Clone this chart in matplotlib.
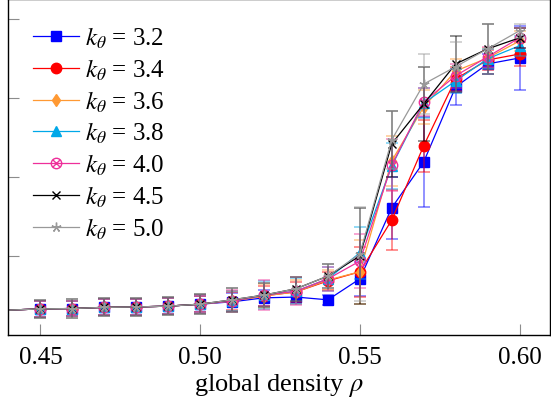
import matplotlib
matplotlib.use("Agg")
import matplotlib.pyplot as plt
from matplotlib.path import Path

plt.rcParams['font.family'] = ['Liberation Serif', 'DejaVu Serif']
plt.rcParams['mathtext.fontset'] = 'stix'

rho = [0.44, 0.45, 0.46, 0.47, 0.48, 0.49, 0.50, 0.51, 0.52,
       0.53, 0.54, 0.55, 0.56, 0.57, 0.58, 0.59, 0.60]

low = [0.063, 0.066, 0.067, 0.070, 0.071, 0.073, 0.078]

y_32 = low + [0.084, 0.094, 0.096, 0.089, 0.142, 0.322, 0.438, 0.628, 0.686, 0.701]
y_34 = low + [0.086, 0.099, 0.109, 0.137, 0.160, 0.291, 0.479, 0.648, 0.696, 0.711]
y_36 = low + [0.086, 0.099, 0.109, 0.139, 0.160, 0.441, 0.577, 0.668, 0.701, 0.744]
y_38 = low + [0.086, 0.101, 0.111, 0.142, 0.208, 0.428, 0.587, 0.643, 0.699, 0.732]
y_40 = low + [0.086, 0.101, 0.111, 0.142, 0.187, 0.430, 0.590, 0.656, 0.704, 0.752]
y_45 = low + [0.089, 0.101, 0.117, 0.149, 0.200, 0.484, 0.585, 0.686, 0.724, 0.752]
y_50 = low + [0.089, 0.101, 0.117, 0.149, 0.205, 0.494, 0.635, 0.679, 0.724, 0.770]

e_low = [0.020] * 6
e_32 = e_low + [0.020, 0.023, 0.020, 0.015, 0.013, 0.043, 0.078, 0.114, 0.046, 0.025, 0.081]
e_34 = e_low + [0.020, 0.023, 0.025, 0.025, 0.023, 0.063, 0.076, 0.066, 0.030, 0.025, 0.030]
e_36 = e_low + [0.023, 0.025, 0.030, 0.030, 0.025, 0.081, 0.063, 0.043, 0.030, 0.025, 0.025]
e_38 = e_low + [0.023, 0.025, 0.035, 0.033, 0.030, 0.066, 0.058, 0.038, 0.030, 0.025, 0.025]
e_40 = e_low + [0.023, 0.028, 0.038, 0.035, 0.030, 0.068, 0.066, 0.035, 0.030, 0.025, 0.025]
e_45 = [0.023] * 6 + [0.025, 0.030, 0.030, 0.030, 0.030, 0.121, 0.084, 0.094, 0.071, 0.063, 0.025]
e_50 = [0.023] * 6 + [0.025, 0.030, 0.030, 0.030, 0.030, 0.119, 0.073, 0.076, 0.063, 0.063, 0.018]

labels = ['3.2', '3.4', '3.6', '3.8', '4.0', '4.5', '5.0']
ys = [y_32, y_34, y_36, y_38, y_40, y_45, y_50]
errs = [e_32, e_34, e_36, e_38, e_40, e_45, e_50]
colors = ['#0000ff', '#ff0000', '#ff9933', '#00a8e8', '#ee2f9a', '#000000', '#999999']

# circle with a cross through it
otimes = Path.make_compound_path(
    Path.unit_circle(),
    Path([(-0.7, -0.7), (0.7, 0.7)], [Path.MOVETO, Path.LINETO]),
    Path([(-0.7, 0.7), (0.7, -0.7)], [Path.MOVETO, Path.LINETO]))

markers = ['s', 'o', 'd', '^', otimes, 'x', (5, 2, 0)]
msizes = [7.5, 7.5, 6, 6.5, 7.5, 6, 7]
mfcs = [None, None, None, None, 'none', None, None]

fig = plt.figure(figsize=(5.51, 4.10), dpi=100)
ax = fig.add_axes([0.0154, 0.1805, 0.9826, 0.8183])

for y, e, c, m, ms, mfc, lab in zip(ys, errs, colors, markers, msizes, mfcs, labels):
    # first point lies on the left edge: line only, no marker / error bar
    ax.errorbar(rho[1:], y[1:], yerr=e[1:], fmt='none', ecolor=c, alpha=0.5, elinewidth=1.2,
                capsize=4.5, capthick=1.2)
    ax.plot(rho, y, color=c, lw=0.9, marker=m, ms=ms, mec=c,
            mfc=c if mfc is None else mfc, mew=1.0, markevery=list(range(1, len(rho))),
            label=r'$k_\theta$ = ' + lab)

ax.set_xlim(0.44, 0.6095)
ax.set_ylim(0, 0.849)
ax.set_xticks([0.45, 0.50, 0.55, 0.60])
ax.set_xticklabels(['0.45', '0.50', '0.55', '0.60'])
ax.set_yticks([0.2, 0.4, 0.6, 0.8])
ax.set_yticklabels([])
ax.tick_params(direction='in', length=8, width=0.8, color='0.55', labelsize=18, pad=8)
ax.set_xlabel(r'global density $\rho$', fontsize=19, labelpad=2)
for s in ax.spines.values():
    s.set_linewidth(1.0)

ax.legend(loc='upper left', bbox_to_anchor=(0.045, 0.925), frameon=False, fontsize=18,
          handlelength=1.85, handletextpad=0.25, labelspacing=0.26, borderaxespad=0,
          borderpad=0)

fig.savefig('out.png', dpi=100)
